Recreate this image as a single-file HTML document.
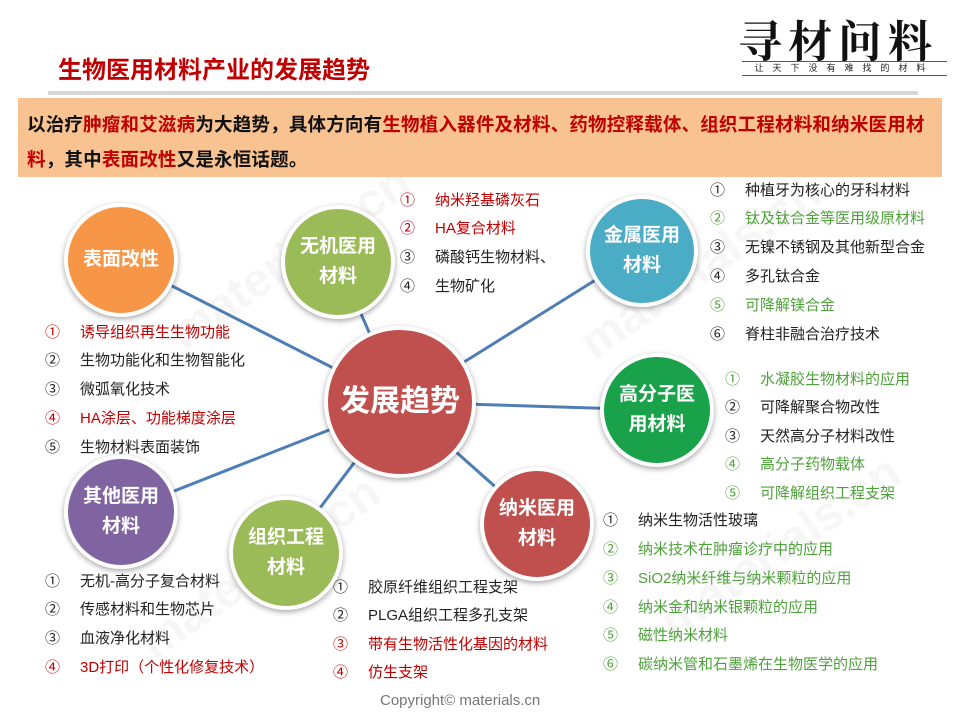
<!DOCTYPE html>
<html><head><meta charset="utf-8"><style>
*{margin:0;padding:0;box-sizing:border-box}
body{width:960px;height:720px;background:#fff;position:relative;overflow:hidden;font-family:"Liberation Sans","Noto Sans CJK SC",sans-serif}
.a{position:absolute;white-space:nowrap}
.title{left:58px;top:50px;font-size:24px;color:#c00000;font-weight:bold}
.box{left:18px;top:98px;width:924px;height:79px;background:#f9c291}
.bt{left:27px;font-size:18.5px;font-weight:bold;color:#111;letter-spacing:0.2px}
.r{color:#c00000}
.g{color:#4ea23a}
.k{color:#222}
.c{position:absolute;border-radius:50%;border:4px solid #fff;box-shadow:0 2px 6px rgba(0,0,0,.35);color:#fff;font-weight:bold;display:flex;align-items:center;justify-content:center;text-align:center;line-height:30px;font-size:19px}
.li{position:absolute;font-size:15px;white-space:nowrap;line-height:18px}
.li span.n{display:inline-block;width:35px}
.wm{position:absolute;font-size:48px;font-weight:bold;color:rgba(0,0,0,0.035);transform:rotate(-35deg);white-space:nowrap}
</style></head><body>
<div class="wm" style="left:150px;top:230px">materials.cn</div>
<div class="wm" style="left:560px;top:240px">materials.cn</div>
<div class="wm" style="left:120px;top:540px">materials.cn</div>
<div class="wm" style="left:640px;top:520px">materials.cn</div>

<div class="a title">生物医用材料产业的发展趋势</div>
<div class="a" style="left:738px;top:6px;font-size:44px;font-family:'Noto Serif CJK SC',serif;color:#111;letter-spacing:6px;font-weight:bold">寻材问料</div>
<div class="a" style="left:742px;top:61px;width:205px;height:15px;border-top:1px solid #a33;border-bottom:1px solid #a33;font-size:9px;color:#222;text-align:center;letter-spacing:9px;line-height:13px">让天下没有难找的材料</div>
<div class="a" style="left:48px;top:91px;width:870px;height:4px;background:#d6d6d6"></div>
<div class="a box"></div>
<div class="a bt" style="top:111px">以治疗<span class="r">肿瘤和艾滋病</span>为大趋势，具体方向有<span class="r">生物植入器件及材料、药物控释载体、组织工程材料和纳米医用材</span></div>
<div class="a bt" style="top:146px"><span class="r">料</span>，其中<span class="r">表面改性</span>又是永恒话题。</div>

<svg class="a" style="left:0;top:0" width="960" height="720">
<g stroke="#4f7db5" stroke-width="3">
<line x1="121" y1="260" x2="400" y2="402"/>
<line x1="338" y1="262" x2="400" y2="402"/>
<line x1="642" y1="251" x2="400" y2="402"/>
<line x1="657" y1="410" x2="400" y2="402"/>
<line x1="537" y1="524" x2="400" y2="402"/>
<line x1="286" y1="553" x2="400" y2="402"/>
<line x1="121" y1="512" x2="400" y2="402"/>
</g></svg>

<div class="c" style="left:64px;top:203px;width:114px;height:114px;background:#f79646">表面改性</div>
<div class="c" style="left:281px;top:205px;width:114px;height:114px;background:#9bbb59">无机医用<br>材料</div>
<div class="c" style="left:586px;top:195px;width:112px;height:112px;background:#4bacc6">金属医用<br>材料</div>
<div class="c" style="left:600px;top:353px;width:114px;height:114px;background:#19a24a">高分子医<br>用材料</div>
<div class="c" style="left:480px;top:467px;width:114px;height:114px;background:#c0504d">纳米医用<br>材料</div>
<div class="c" style="left:229px;top:496px;width:114px;height:114px;background:#9bbb59">组织工程<br>材料</div>
<div class="c" style="left:64px;top:455px;width:114px;height:114px;background:#8064a2">其他医用<br>材料</div>
<div class="c" style="left:324px;top:326px;width:152px;height:152px;background:#c0504d;font-size:30px">发展趋势</div>

<div class="li r" style="left:400px;top:192px"><span class="n">①</span>纳米羟基磷灰石</div>
<div class="li r" style="left:400px;top:220px"><span class="n">②</span>HA复合材料</div>
<div class="li k" style="left:400px;top:249px"><span class="n">③</span>磷酸钙生物材料、</div>
<div class="li k" style="left:400px;top:278px"><span class="n">④</span>生物矿化</div>

<div class="li k" style="left:710px;top:182px"><span class="n">①</span>种植牙为核心的牙科材料</div>
<div class="li g" style="left:710px;top:210px"><span class="n">②</span>钛及钛合金等医用级原材料</div>
<div class="li k" style="left:710px;top:239px"><span class="n">③</span>无镍不锈钢及其他新型合金</div>
<div class="li k" style="left:710px;top:268px"><span class="n">④</span>多孔钛合金</div>
<div class="li g" style="left:710px;top:297px"><span class="n">⑤</span>可降解镁合金</div>
<div class="li k" style="left:710px;top:326px"><span class="n">⑥</span>脊柱非融合治疗技术</div>

<div class="li g" style="left:725px;top:371px"><span class="n">①</span>水凝胶生物材料的应用</div>
<div class="li k" style="left:725px;top:399px"><span class="n">②</span>可降解聚合物改性</div>
<div class="li k" style="left:725px;top:428px"><span class="n">③</span>天然高分子材料改性</div>
<div class="li g" style="left:725px;top:456px"><span class="n">④</span>高分子药物载体</div>
<div class="li g" style="left:725px;top:485px"><span class="n">⑤</span>可降解组织工程支架</div>

<div class="li k" style="left:603px;top:512px"><span class="n">①</span>纳米生物活性玻璃</div>
<div class="li g" style="left:603px;top:541px"><span class="n">②</span>纳米技术在肿瘤诊疗中的应用</div>
<div class="li g" style="left:603px;top:570px"><span class="n">③</span>SiO2纳米纤维与纳米颗粒的应用</div>
<div class="li g" style="left:603px;top:599px"><span class="n">④</span>纳米金和纳米银颗粒的应用</div>
<div class="li g" style="left:603px;top:627px"><span class="n">⑤</span>磁性纳米材料</div>
<div class="li g" style="left:603px;top:656px"><span class="n">⑥</span>碳纳米管和石墨烯在生物医学的应用</div>

<div class="li r" style="left:45px;top:324px"><span class="n">①</span>诱导组织再生生物功能</div>
<div class="li k" style="left:45px;top:352px"><span class="n">②</span>生物功能化和生物智能化</div>
<div class="li k" style="left:45px;top:381px"><span class="n">③</span>微弧氧化技术</div>
<div class="li r" style="left:45px;top:410px"><span class="n">④</span>HA涂层、功能梯度涂层</div>
<div class="li k" style="left:45px;top:439px"><span class="n">⑤</span>生物材料表面装饰</div>

<div class="li k" style="left:45px;top:573px"><span class="n">①</span>无机-高分子复合材料</div>
<div class="li k" style="left:45px;top:601px"><span class="n">②</span>传感材料和生物芯片</div>
<div class="li k" style="left:45px;top:630px"><span class="n">③</span>血液净化材料</div>
<div class="li r" style="left:45px;top:659px"><span class="n">④</span>3D打印（个性化修复技术）</div>

<div class="li k" style="left:333px;top:579px"><span class="n">①</span>胶原纤维组织工程支架</div>
<div class="li k" style="left:333px;top:607px"><span class="n">②</span>PLGA组织工程多孔支架</div>
<div class="li r" style="left:333px;top:636px"><span class="n">③</span>带有生物活性化基因的材料</div>
<div class="li r" style="left:333px;top:664px"><span class="n">④</span>仿生支架</div>

<div class="a" style="left:380px;top:692px;font-size:15px;color:#777">Copyright© materials.cn</div>
</body></html>
